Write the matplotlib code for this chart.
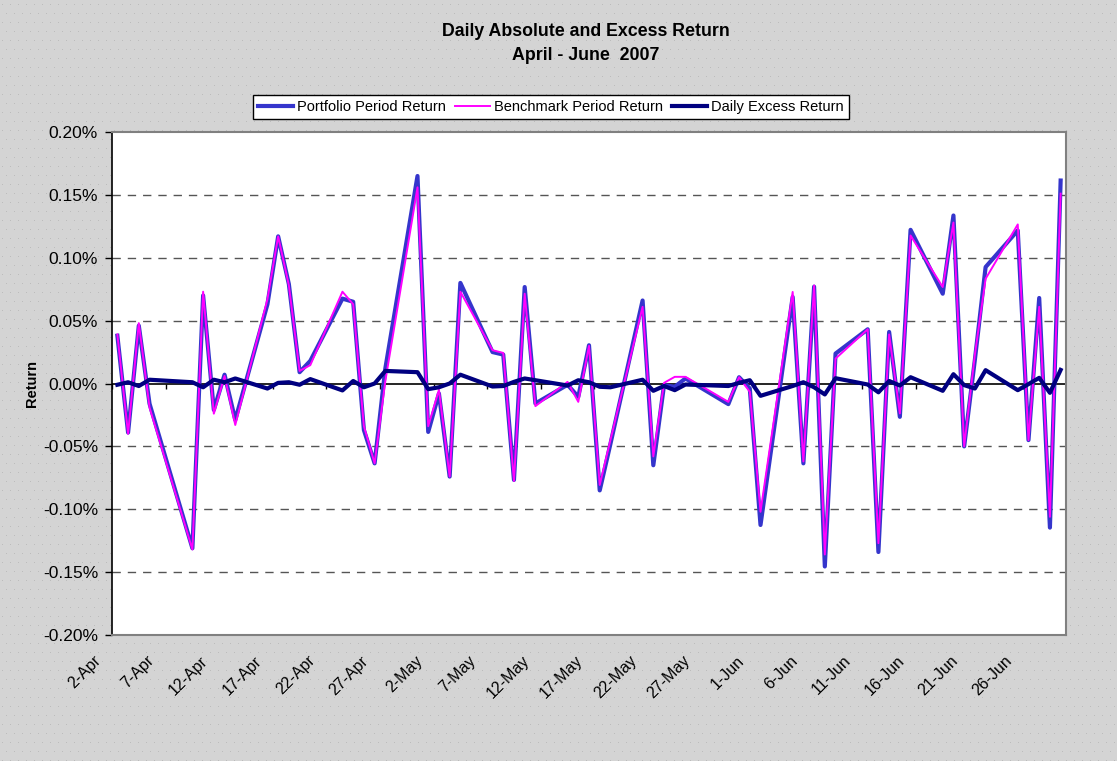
import numpy as np
import matplotlib
matplotlib.use('Agg')
from matplotlib import pyplot as plt
from matplotlib import transforms

plt.rcParams['font.family'] = ['Liberation Sans', 'DejaVu Sans']

# day offset from 2-Apr-2007 for every trading day shown
day = [0, 1, 2, 3, 7, 8, 9, 10, 11, 14, 15, 16, 17, 18, 21, 22, 23, 24, 25, 28,
       29, 30, 31, 32, 35, 36, 37, 38, 39, 42, 43, 44, 45, 46, 49, 50, 51, 52, 53,
       57, 58, 59, 60, 63, 64, 65, 66, 67, 70, 71, 72, 73, 74, 77, 78, 79, 80, 81,
       84, 85, 86, 87, 88]

# returns in percent
portfolio = [0.038, -0.039, 0.046, -0.016, -0.131, 0.070, -0.021, 0.007, -0.029,
             0.063, 0.117, 0.079, 0.009, 0.018, 0.0675, 0.065, -0.037, -0.0635,
             0.012, 0.165, -0.0385, -0.008, -0.074, 0.080, 0.025, 0.023, -0.0767,
             0.0767, -0.0159, -0.001, -0.0106, 0.0304, -0.085, -0.048, 0.066, -0.065,
             -0.0013, -0.0026, 0.004, -0.0164, 0.005, -0.004, -0.1125, 0.0688,
             -0.0635, 0.077, -0.1455, 0.0238, 0.0431, -0.134, 0.041, -0.0265, 0.1222,
             0.0714, 0.1336, -0.050, 0.019, 0.0926, 0.1217, -0.045, 0.068, -0.1146,
             0.1614]
benchmark = [0.039, -0.040, 0.048, -0.019, -0.132, 0.073, -0.024, 0.006, -0.033,
             0.067, 0.117, 0.078, 0.010, 0.0146, 0.073, 0.063, -0.034, -0.0635,
             0.002, 0.156, -0.034, -0.005, -0.074, 0.073, 0.0265, 0.0243, -0.0775,
             0.0714, -0.018, 0.0013, -0.0146, 0.030, -0.0807, -0.045, 0.061, -0.058,
             0.0005, 0.0053, 0.0053, -0.0146, 0.005, -0.0066, -0.102, 0.0728,
             -0.062, 0.078, -0.136, 0.0198, 0.0431, -0.127, 0.039, -0.0238, 0.1177,
             0.0767, 0.128, -0.050, 0.023, 0.0833, 0.1265, -0.045, 0.061, -0.106,
             0.151]
excess = [-0.001, 0.001, -0.002, 0.003, 0.001, -0.003, 0.003, 0.001, 0.004,
          -0.004, 0.0005, 0.001, -0.001, 0.0035, -0.0055, 0.002, -0.003, 0.0,
          0.010, 0.009, -0.0045, -0.003, 0.0, 0.007, -0.0024, -0.002, 0.0013,
          0.004, 0.0026, -0.0016, 0.0026, 0.001, -0.0026, -0.003, 0.003, -0.0058,
          -0.002, -0.0053, -0.0008, -0.002, 0.0005, 0.0026, -0.0098, -0.002,
          0.001, -0.003, -0.0087, 0.0042, -0.0008, -0.007, 0.002, -0.0016, 0.005,
          -0.0058, 0.0074, -0.0013, -0.004, 0.0106, -0.0053, -0.0005, 0.0045,
          -0.0074, 0.0108]

tick_labels = ['2-Apr', '7-Apr', '12-Apr', '17-Apr', '22-Apr', '27-Apr', '2-May',
               '7-May', '12-May', '17-May', '22-May', '27-May', '1-Jun', '6-Jun',
               '11-Jun', '16-Jun', '21-Jun', '26-Jun']
y_ticks = [-0.20, -0.15, -0.10, -0.05, 0.0, 0.05, 0.10, 0.15, 0.20]

W, H = 1117, 761
fig = plt.figure(figsize=(W / 100, H / 100), dpi=100)

# dotted grey chart area, like the Excel pattern fill
bg = np.full((H, W, 3), 0.835)
yy, xx = np.mgrid[0:H, 0:W]
dots = (yy % 9 == 4) & (((xx + (yy // 9 % 2) * 4) % 8) == 2)
bg[dots] = 0.74
bax = fig.add_axes([0, 0, 1, 1], zorder=-5)
bax.imshow(bg, interpolation='nearest', aspect='auto')
bax.axis('off')

ax = fig.add_axes([112 / W, 1 - 635 / H, 954 / W, 503 / H])
ax.set_facecolor('white')

ax.plot(day, portfolio, color='#3535CC', lw=3, label='Portfolio Period Return', zorder=3)
ax.plot(day, benchmark, color='#FF00FF', lw=1.4, label='Benchmark Period Return', zorder=4)
ax.plot(day, excess, color='#000080', lw=3, label='Daily Excess Return', zorder=5)

ax.set_xlim(-0.5, 88.5)
ax.set_ylim(-0.20, 0.20)

for v in y_ticks[1:-1]:
    if v != 0:
        ax.axhline(v, color='#555555', lw=1, dashes=(6, 5), zorder=1)
ax.axhline(0, color='black', lw=1.2, zorder=2)

xt = np.arange(-0.5, 89, 5)
ax.vlines(xt, -0.004, 0, color='black', lw=1, zorder=2)

ax.set_yticks(y_ticks)
ax.set_yticklabels(['%.2f%%' % v for v in y_ticks], fontsize=12.5)
ax.tick_params(axis='y', direction='out', length=5, width=1, pad=5)

ax.set_xticks(xt)
ax.set_xticklabels(tick_labels, fontsize=11.5, rotation=45, ha='right',
                   va='top', rotation_mode='anchor')
ax.tick_params(axis='x', length=0, pad=13)
shift = transforms.ScaledTranslation(-19 / 100, 0, fig.dpi_scale_trans)
for lab in ax.get_xticklabels():
    lab.set_transform(lab.get_transform() + shift)

for side in ['top', 'right', 'bottom']:
    ax.spines[side].set_color('#808080')
    ax.spines[side].set_linewidth(1.5)
ax.spines['left'].set_color('black')
ax.spines['left'].set_linewidth(1.2)

ax.set_ylabel('Return', fontsize=10.5, fontweight='bold', labelpad=3)

fig.text(586 / W, 1 - 32 / H, 'Daily Absolute and Excess Return', ha='center',
         va='center', fontsize=12.8, fontweight='bold')
fig.text(586 / W, 1 - 55 / H, 'April - June  2007', ha='center', va='center',
         fontsize=12.8, fontweight='bold')

leg = fig.legend(loc='center', bbox_to_anchor=(551 / W, 1 - 107 / H), ncol=3,
                 fontsize=10.5, frameon=True, fancybox=False, handlelength=2.4,
                 columnspacing=0.6, handletextpad=0.3, borderpad=0.35,
                 borderaxespad=0)
leg.get_frame().set_edgecolor('black')
leg.get_frame().set_linewidth(1)
leg.get_frame().set_facecolor('white')
leg.get_frame().set_alpha(1)

fig.savefig('out.png', dpi=100)
